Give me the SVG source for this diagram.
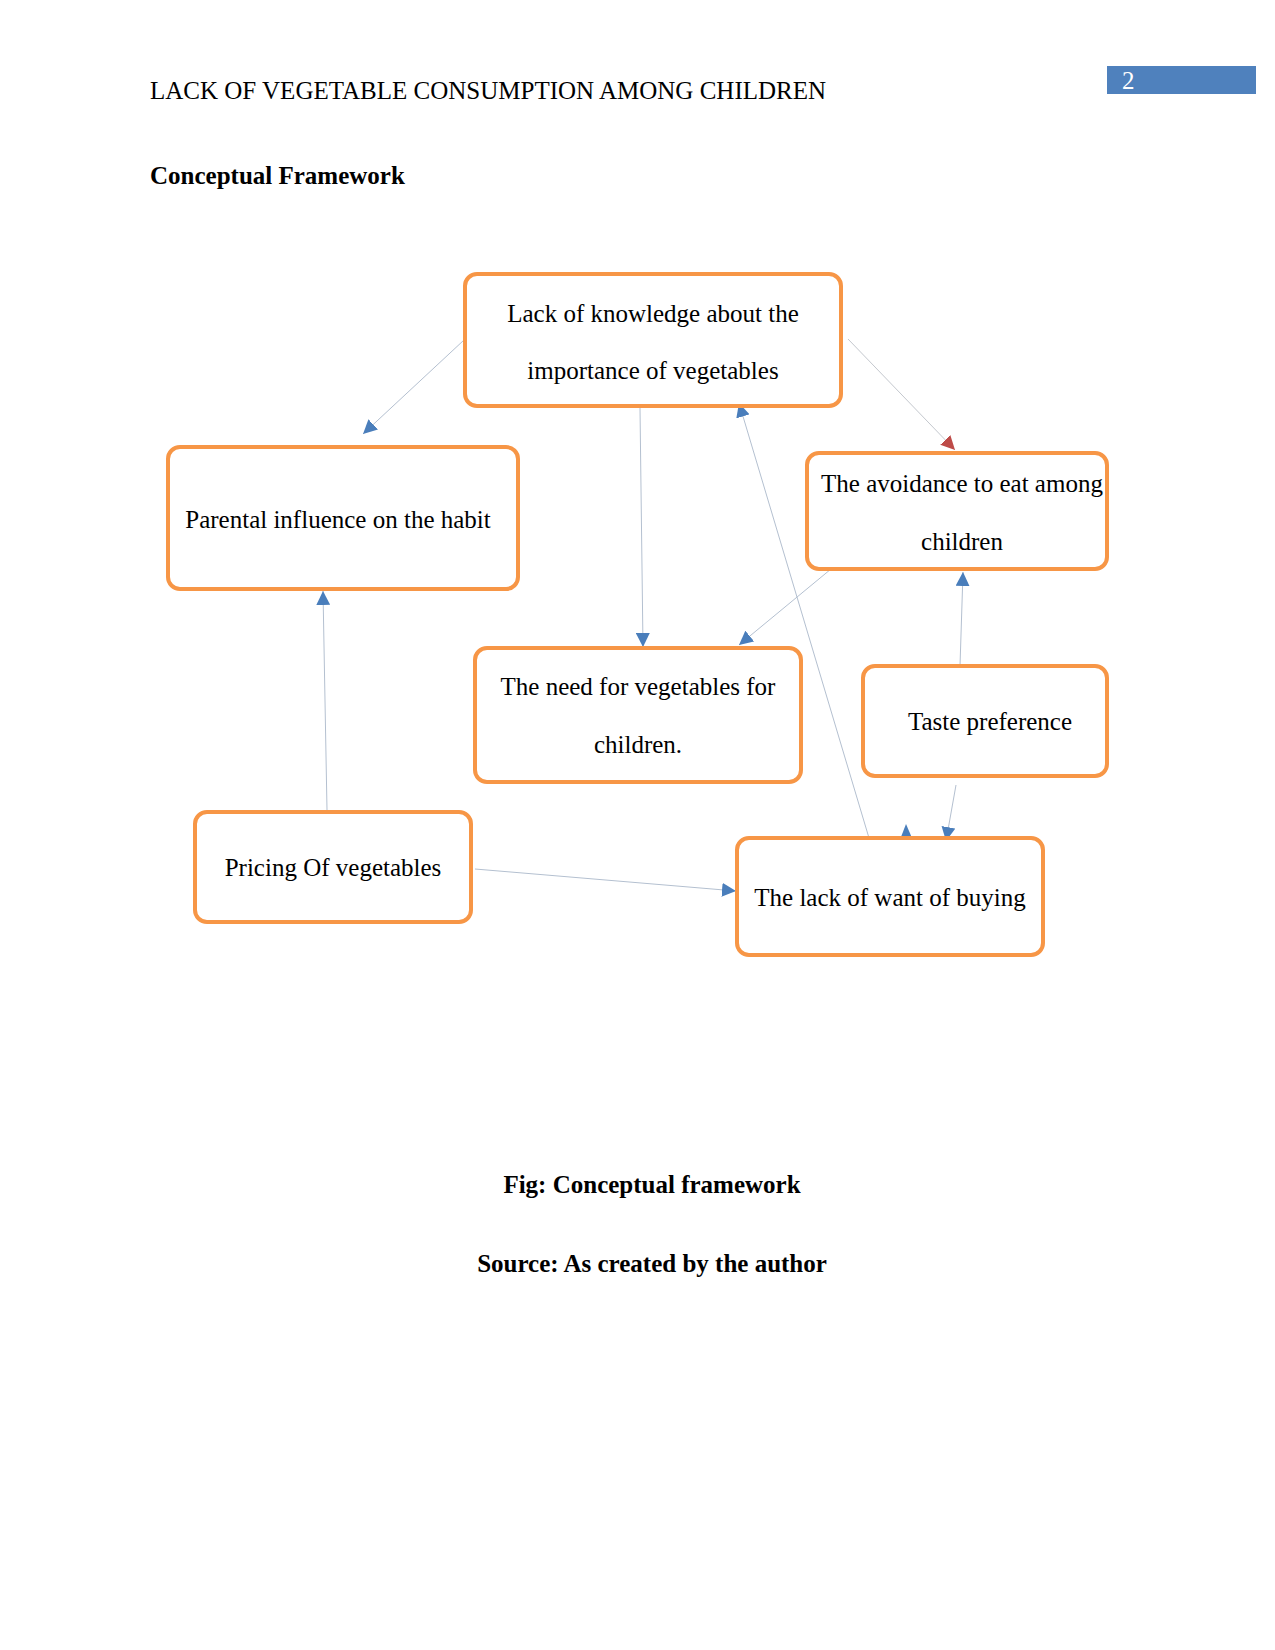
<svg xmlns="http://www.w3.org/2000/svg" width="1275" height="1650" viewBox="0 0 1275 1650">
<style>
text{font-family:"Liberation Serif","Times New Roman",serif;fill:#000;}
.hdr{font-size:25px;}
.bold{font-size:25px;font-weight:bold;}
.lbl{font-size:25px;text-anchor:middle;}
.box{fill:#fff;stroke:#F79646;stroke-width:4;}
.edge{fill:none;stroke:#B4C0D0;stroke-width:1;marker-end:url(#ab);}
.edge-r{fill:none;stroke:#C4C8CE;stroke-width:1;marker-end:url(#ar);}
</style>
<defs>
<marker id="ab" markerUnits="userSpaceOnUse" markerWidth="14" markerHeight="14" viewBox="0 0 12 12" refX="12" refY="6" orient="auto">
<path d="M0,0 L12,6 L0,12 z" fill="#4A7EBB"/>
</marker>
<marker id="ar" markerUnits="userSpaceOnUse" markerWidth="14" markerHeight="14" viewBox="0 0 12 12" refX="12" refY="6" orient="auto">
<path d="M0,0 L12,6 L0,12 z" fill="#BE4B48"/>
</marker>
</defs>
<rect width="1275" height="1650" fill="#fff"/>
<g id="header">
<text class="hdr" x="150" y="99">LACK OF VEGETABLE CONSUMPTION AMONG CHILDREN</text>
<rect x="1107" y="66" width="149" height="28" fill="#4F81BD"/>
<text class="hdr" x="1122" y="89" style="fill:#fff">2</text>
<text class="bold" x="150" y="184">Conceptual Framework</text>
</g>
<g id="connectors">
<path class="edge" d="M464,340 L363,434"/>
<path class="edge-r" d="M848,339 L955,450"/>
<path class="edge" d="M640,408 L643,647"/>
<path class="edge" d="M831,569 L739,645"/>
<path class="edge" d="M869,838 L739,403"/>
<path class="edge" d="M960,666 L963,572"/>
<path class="edge" d="M956,785 L946,841"/>
<path class="edge" d="M475,869 L736,891"/>
<path class="edge" d="M327,810 L323,591"/>
<polygon points="906,824 901,837 912,838" fill="#4A7EBB"/>
</g>
<g id="n-knowledge">
<rect class="box" x="465" y="274" width="376" height="132" rx="12"/>
<text class="lbl" x="653" y="322">Lack of knowledge about the</text>
<text class="lbl" x="653" y="379">importance of vegetables</text>
</g>
<g id="n-parental">
<rect class="box" x="168" y="447" width="350" height="142" rx="12"/>
<text class="lbl" x="338" y="528">Parental influence on the habit</text>
</g>
<g id="n-avoidance">
<rect class="box" x="807" y="453" width="300" height="116" rx="12"/>
<text class="lbl" x="962" y="492">The avoidance to eat among</text>
<text class="lbl" x="962" y="550">children</text>
</g>
<g id="n-need">
<rect class="box" x="475" y="648" width="326" height="134" rx="12"/>
<text class="lbl" x="638" y="695">The need for vegetables for</text>
<text class="lbl" x="638" y="753">children.</text>
</g>
<g id="n-taste">
<rect class="box" x="863" y="666" width="244" height="110" rx="12"/>
<text class="lbl" x="990" y="730">Taste preference</text>
</g>
<g id="n-pricing">
<rect class="box" x="195" y="812" width="276" height="110" rx="12"/>
<text class="lbl" x="333" y="876">Pricing Of vegetables</text>
</g>
<g id="n-buying">
<rect class="box" x="737" y="838" width="306" height="117" rx="12"/>
<text class="lbl" x="890" y="906">The lack of want of buying</text>
</g>
<g id="caption">
<text class="bold" x="652" y="1193" text-anchor="middle">Fig: Conceptual framework</text>
<text class="bold" x="652" y="1272" text-anchor="middle">Source: As created by the author</text>
</g>
</svg>
